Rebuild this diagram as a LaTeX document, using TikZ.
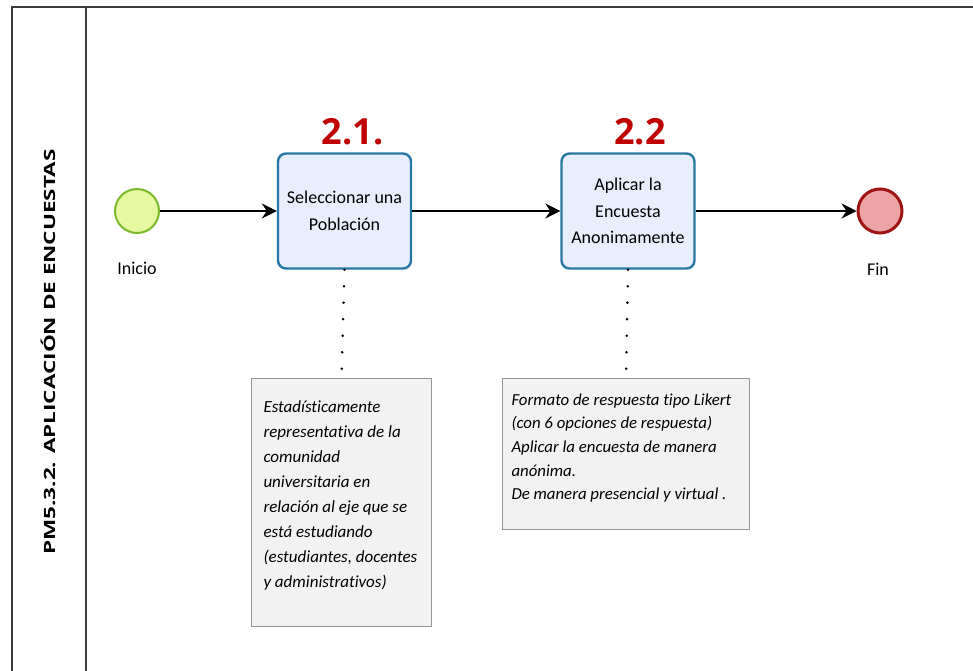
\documentclass[tikz,border=0pt]{standalone}
\usepackage{fontspec}
\setmainfont{Carlito}[Ligatures=NoCommon]
\newfontfamily\poolfont{Open Sans}
\usetikzlibrary{arrows.meta,positioning}
\definecolor{taskblue}{RGB}{232,238,252}
\definecolor{taskedge}{RGB}{40,120,165}
\definecolor{startfill}{RGB}{230,249,160}
\definecolor{startedge}{RGB}{122,185,42}
\definecolor{endfill}{RGB}{234,164,164}
\definecolor{endedge}{RGB}{160,20,20}
\definecolor{stepred}{RGB}{192,0,0}
\definecolor{notegray}{RGB}{242,242,242}
\definecolor{noteedge}{RGB}{150,150,150}
\definecolor{pooledge}{RGB}{60,60,60}

\tikzset{
  task/.style={draw=taskedge, line width=2.4pt, fill=taskblue, rounded corners=8pt,
    minimum width=133pt, minimum height=115pt, align=center,
    font=\fontsize{18}{26.8}\selectfont},
  event/.style={circle, minimum size=44pt, inner sep=0pt},
  note/.style={draw=noteedge, line width=1pt, fill=notegray, anchor=north west,
    font=\itshape\fontsize{17}{25}\selectfont},
  flow/.style={-{Stealth[length=15pt,width=15pt,inset=5pt]}, line width=1.6pt},
  assoc/.style={line width=2.8pt, dash pattern=on 0pt off 16.5pt, line cap=round},
  steplabel/.style={text=stepred, font=\poolfont\bfseries\fontsize{36}{36}\selectfont},
  evlabel/.style={font=\fontsize{18}{22}\selectfont}
}

\begin{document}
\begin{tikzpicture}[x=1pt, y=-1pt]
  \useasboundingbox (0,0) rectangle (973,670);
  \clip (0,0) rectangle (973,670);

  % pool and lane
  \draw[pooledge, line width=2pt] (12,700) -- (12,7) -- (990,7);
  \draw[pooledge, line width=2pt] (86,7) -- (86,700);
  \node[rotate=90, font=\poolfont\bfseries\fontsize{15.5}{17}\selectfont] (pool) at (48,352)
    {\scalebox{1.45}[1]{PM5.3.2. APLICACIÓN DE ENCUESTAS}};

  % events and tasks
  \node[event, draw=startedge, line width=2pt, fill=startfill] (start) at (137,211) {};
  \node[task] (select) at (344.5,211) {Seleccionar una\\Población};
  \node[task] (apply) at (628,211) {Aplicar la\\Encuesta\\Anonimamente};
  \node[event, draw=endedge, line width=3pt, fill=endfill] (end) at (880,211) {};

  \node[evlabel, below=25pt of start] (startlbl) {Inicio};
  \node[evlabel, below=25pt of end, xshift=-2pt] (endlbl) {Fin};

  \node[steplabel, above=4pt of select, xshift=8pt] (num1) {2.1.};
  \node[steplabel, above=4pt of apply, xshift=12pt] (num2) {2.2};

  % annotations
  \node[note, inner xsep=12pt, inner ysep=22pt] (note1) at (251,378)
    {\parbox[c][204pt][t]{156pt}{\raggedright
    Estadísticamente\\representativa de la\\comunidad\\universitaria en\\relación al eje que se\\está estudiando\\(estudiantes, docentes\\y administrativos)}};
  \node[note, inner xsep=9pt, inner ysep=15pt,
        font=\itshape\fontsize{16.8}{23.7}\selectfont] (note2) at (502,378)
    {\parbox[c][121pt][t]{229pt}{\raggedright
    Formato de respuesta tipo Likert\\(con 6 opciones de respuesta)\\Aplicar la encuesta de manera\\anónima.\\De manera presencial y virtual .}};

  % connectors
  \draw[flow] (start) -- (select);
  \draw[flow] (select) -- (apply);
  \draw[flow] (apply) -- (end);
  \draw[assoc] (select.south) -- (note1.north);
  \draw[assoc] (apply.south) -- (note2.north);
\end{tikzpicture}
\end{document}
